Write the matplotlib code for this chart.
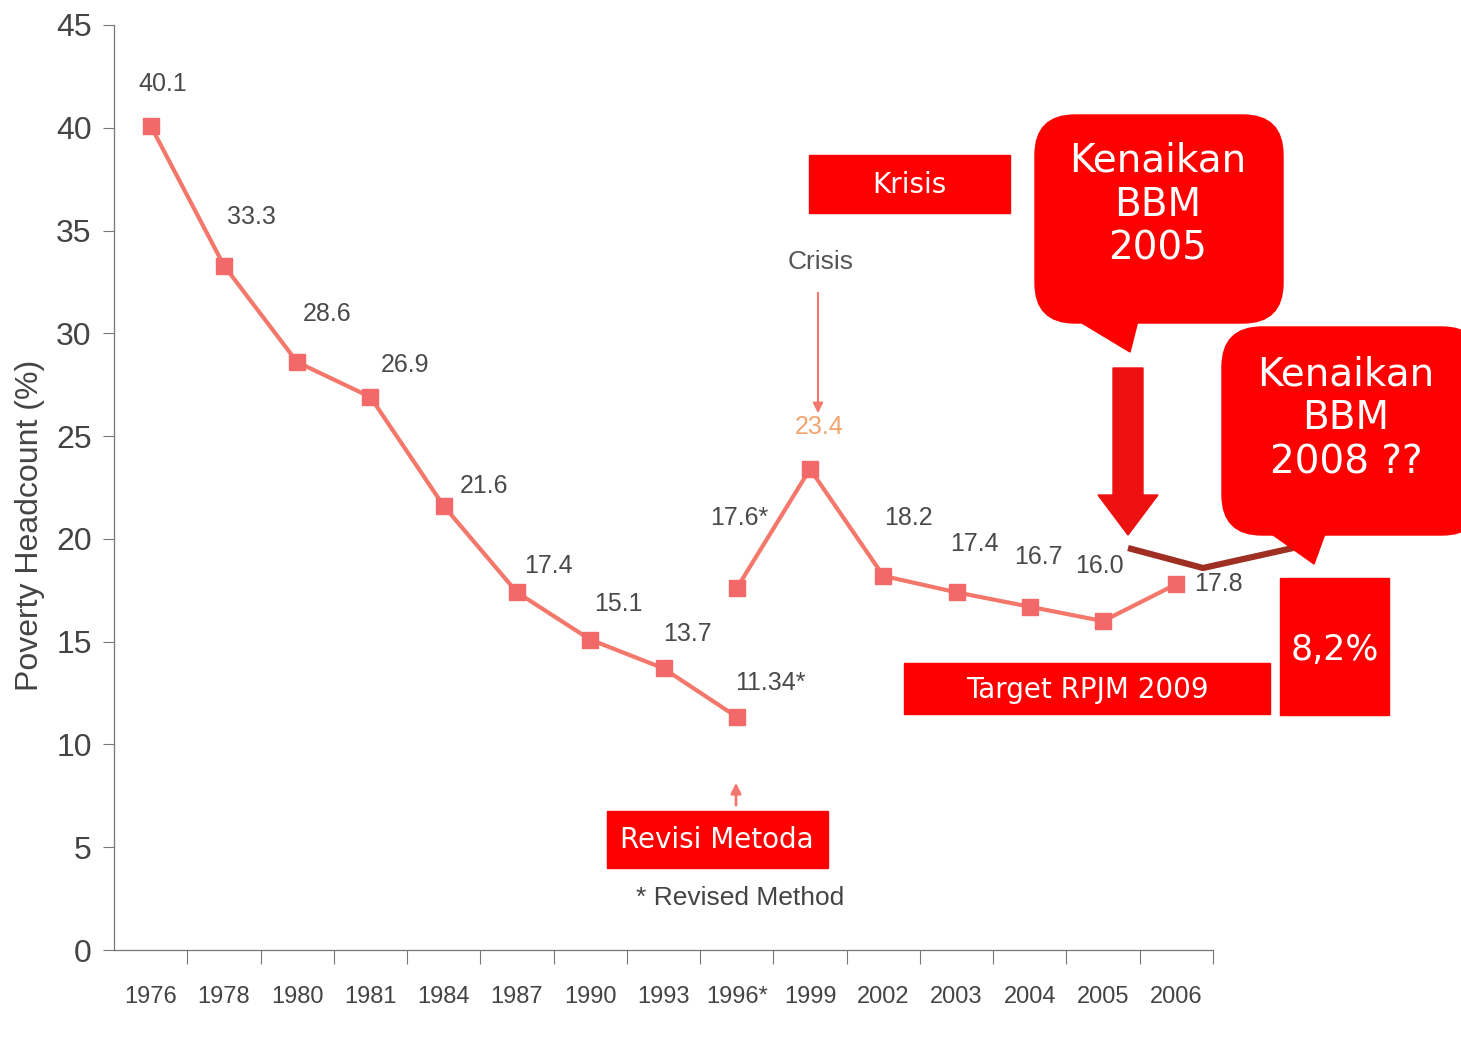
import matplotlib
matplotlib.use("Agg")
import matplotlib.pyplot as plt
from matplotlib.patches import FancyBboxPatch, Polygon, Rectangle
import numpy as np

# ---------------- data ----------------
years = ["1976", "1978", "1980", "1981", "1984", "1987", "1990", "1993",
         "1996*", "1999", "2002", "2003", "2004", "2005", "2006"]
old_values = [40.1, 33.3, 28.6, 26.9, 21.6, 17.4, 15.1, 13.7, 11.34]
old_labels = ["40.1", "33.3", "28.6", "26.9", "21.6", "17.4", "15.1", "13.7", "11.34*"]
new_values = [17.6, 23.4, 18.2, 17.4, 16.7, 16.0, 17.8]
new_labels = ["17.6*", "23.4", "18.2", "17.4", "16.7", "16.0", "17.8"]
yticks = [0, 5, 10, 15, 20, 25, 30, 35, 40, 45]

NARROW = ['Liberation Sans Narrow', 'DejaVu Sans Condensed', 'Liberation Sans']
BOXFONT = ['DejaVu Sans']

W, H = 1461, 1037
fig = plt.figure(figsize=(W / 100, H / 100), dpi=100)
fig.patch.set_facecolor('white')

# main axes in pixel terms
left_px, right_px = 114, 1213
y0_px, y45_px = 950, 25
ax = fig.add_axes([left_px / W, 1 - y0_px / H, (right_px - left_px) / W, (y0_px - y45_px) / H])
ax.set_facecolor('none')

n = len(years)
x_old = np.arange(len(old_values))
x_new = np.arange(len(old_values) - 1, n)

line_c = '#f4776b'
mark_c = '#f36868'
ax.plot(x_old, old_values, color=line_c, lw=3, marker='s', ms=12,
        mfc=mark_c, mec=mark_c, zorder=3)
ax.plot(x_new, new_values, color=line_c, lw=3, marker='s', ms=12,
        mfc=mark_c, mec=mark_c, zorder=3)

old_off = [(12, 42), (28, 48), (30, 48), (35, 32), (40, 20), (31, 26), (28, 36), (24, 34), (34, 34)]
new_off = [(2, 70), (9, 42), (25, 58), (18, 48), (9, 50), (-4, 55), (42, 0)]
for x, v, lab, off in zip(x_old, old_values, old_labels, old_off):
    ax.annotate(lab, (x, v), xytext=off, textcoords='offset pixels',
                ha='center', va='center', fontsize=18, family=NARROW, color='#4a4a4a')
for x, v, lab, off in zip(x_new, new_values, new_labels, new_off):
    c = '#f2a46e' if lab == "23.4" else '#4a4a4a'
    ax.annotate(lab, (x, v), xytext=off, textcoords='offset pixels',
                ha='center', va='center', fontsize=18, family=NARROW, color=c)

ax.set_xlim(-0.5, n - 0.5)
ax.set_ylim(0, 45)
ax.set_yticks(yticks)
ax.set_yticklabels([str(t) for t in yticks], fontsize=23, family=NARROW, color='#444444')
ax.set_xticks(np.arange(n) + 0.5, minor=False)
ax.set_xticklabels([])
ax.set_xticks(np.arange(n), minor=True)
ax.set_xticklabels(years, minor=True, fontsize=17, family=NARROW, color='#444444')
ax.tick_params(axis='x', which='major', length=10, width=0.8, color='#777777', direction='out')
ax.tick_params(axis='x', which='minor', length=0, pad=26)
ax.tick_params(axis='y', length=8, width=0.8, color='#777777', pad=8)
for s in ['top', 'right']:
    ax.spines[s].set_visible(False)
for s in ['left', 'bottom']:
    ax.spines[s].set_color('#777777')
    ax.spines[s].set_linewidth(0.9)

fig.text(30 / W, 1 - 525 / H, "Poverty Headcount (%)", rotation=90, ha='center', va='center',
         fontsize=23, family=['Liberation Sans'], color='#444444')

# ---------------- overlay annotations (pixel coordinates) ----------------
ov = fig.add_axes([0, 0, 1, 1])
ov.set_xlim(0, W)
ov.set_ylim(H, 0)
ov.axis('off')
ov.set_facecolor('none')
red = '#ff0000'

# Crisis text and arrow
ov.text(821, 262, "Crisis", ha='center', va='center', fontsize=19, family=NARROW, color='#555555')
ov.annotate("", xy=(818, 416), xytext=(818, 290),
            arrowprops=dict(arrowstyle='-|>', color=line_c, lw=1.5, mutation_scale=15))
# Revised method arrow
ov.annotate("", xy=(736, 780), xytext=(736, 808),
            arrowprops=dict(arrowstyle='-|>', color=line_c, lw=2, mutation_scale=15))
ov.text(740, 898, "* Revised Method", ha='center', va='center', fontsize=19, family=NARROW, color='#444444')

# Krisis box
ov.add_patch(Rectangle((809, 155), 201, 58, color=red, zorder=5))
ov.text(909, 185, "Krisis", ha='center', va='center', fontsize=20, family=BOXFONT, color='white', zorder=6)

# Revisi Metoda
ov.add_patch(Rectangle((607, 811), 221, 57, color=red, zorder=5))
ov.text(717, 840, "Revisi Metoda", ha='center', va='center', fontsize=20, family=BOXFONT, color='white', zorder=6)

# Target RPJM 2009
ov.add_patch(Rectangle((904, 663), 366, 51, color=red, zorder=5))
ov.text(1087, 690, "Target RPJM 2009", ha='center', va='center', fontsize=20, family=BOXFONT, color='white', zorder=6)

# 8,2%
ov.add_patch(Rectangle((1280, 578), 109, 137, color=red, zorder=5))
ov.text(1335, 650, "8,2%", ha='center', va='center', fontsize=25, family=BOXFONT, color='white', zorder=6)

# Bubble 2005
ov.add_patch(FancyBboxPatch((1035 + 40, 115 + 40), 248 - 80, 208 - 80,
                            boxstyle="round,pad=40,rounding_size=40", color=red, zorder=5))
ov.add_patch(Polygon([(1052, 305), (1142, 305), (1130, 352)], closed=True, color=red, zorder=5))
ov.text(1158, 205, "Kenaikan\nBBM\n2005", ha='center', va='center', fontsize=28,
        family=BOXFONT, color='white', linespacing=1.2, zorder=6)

# Down arrow
ov.add_patch(Polygon([(1113, 368), (1143, 368), (1143, 495), (1158, 495), (1128, 535),
                      (1098, 495), (1113, 495)], closed=True, color='#ee1111', zorder=5))

# Bubble 2008
ov.add_patch(FancyBboxPatch((1222 + 40, 327 + 40), 260 - 80, 208 - 80,
                            boxstyle="round,pad=40,rounding_size=40", color=red, zorder=5))
ov.add_patch(Polygon([(1252, 520), (1330, 520), (1314, 564)], closed=True, color=red, zorder=5))
ov.text(1346, 418, "Kenaikan\nBBM\n2008 ??", ha='center', va='center', fontsize=28,
        family=BOXFONT, color='white', linespacing=1.2, zorder=6)

# brown connector line
ov.plot([1128, 1203, 1302], [548, 568, 546], color='#9e2f22', lw=4.5, solid_capstyle='butt', zorder=4)

fig.savefig("out.png", dpi=100, facecolor='white')
